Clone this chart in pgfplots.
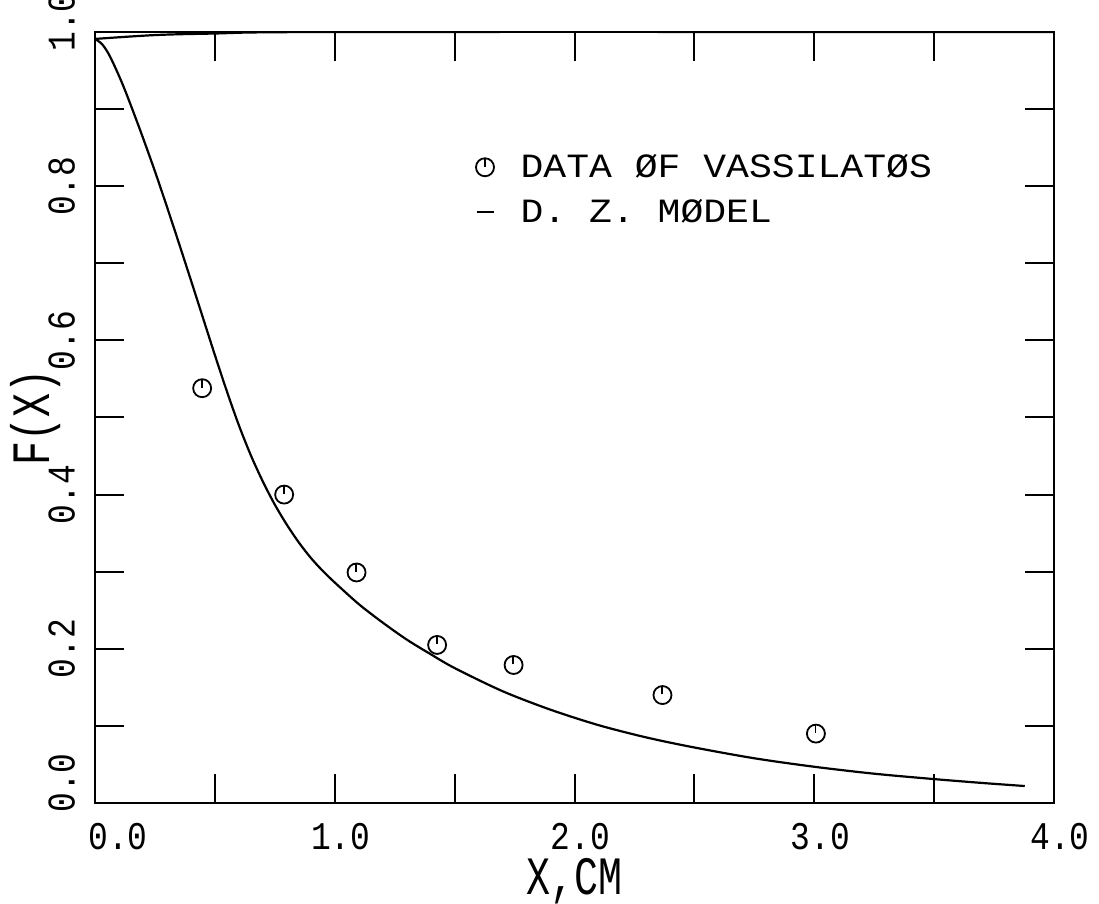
\documentclass[border=0pt]{standalone}
\usepackage{fontspec}
\setmainfont{Liberation Mono}
\newfontfamily\tickfont[FakeStretch=0.84]{Liberation Mono}
\newfontfamily\labfont[FakeStretch=0.74]{Liberation Mono}
\newfontfamily\legfont[FakeStretch=1.12]{Liberation Mono}
\usepackage{pgfplots}
\pgfplotsset{compat=1.18}

% circle with a short stroke inside, as the plotter drew it
\pgfdeclareplotmark{clock}{%
  \pgfpathcircle{\pgfpointorigin}{4.5pt}%
  \pgfusepathqstroke
  \pgfpathmoveto{\pgfpoint{-0.2pt}{0.3pt}}%
  \pgfpathlineto{\pgfpoint{-0.2pt}{4.2pt}}%
  \pgfusepathqstroke}

\pgfplotsset{
  markleg/.style={legend image code/.code={\draw[##1] plot coordinates {(0pt,0pt)};}},
  dashleg/.style={legend image code/.code={\draw[##1] (-4.25pt,0pt) -- (4.25pt,0pt);}},
}

\begin{document}
\begin{tikzpicture}
\begin{axis}[
  at={(0,0)}, anchor=south west,
  scale only axis, width=479.5pt, height=385.5pt,
  xmin=0, xmax=4, ymin=0, ymax=1,
  xtick={0,1,2,3,4},
  xticklabels={\hspace{17pt}0.0,1.0,2.0,3.0,4.0},
  minor xtick={0.5,1.5,2.5,3.5},
  ytick={0,0.2,0.4,0.6,0.8,1.0},
  yticklabels={\hspace{20pt}0.0,0.2,0.4,0.6,0.8,\hspace{10pt}1.0},
  minor ytick={0.1,0.3,0.5,0.7,0.9},
  tick align=inside,
  major tick length=14.5pt, minor tick length=14.5pt,
  tick style={line width=1pt, black},
  axis line style={line width=1.2pt},
  xticklabel style={font=\tickfont\fontsize{19.6}{20}\selectfont, inner sep=0pt, anchor=north, xshift=3pt},
  xticklabel shift=9.75pt,
  yticklabel style={font=\tickfont\fontsize{19.6}{20}\selectfont, inner sep=0pt, rotate=90, anchor=south},
  yticklabel shift=9.75pt,
  xlabel={X,CM},
  ylabel={F(X)},
  xlabel style={font=\labfont\fontsize{27}{29}\selectfont, at={(axis description cs:0.5,-0.119)}, anchor=base, inner sep=0pt},
  ylabel style={font=\labfont\fontsize{27}{29}\selectfont, at={(axis description cs:-0.047,0.5)}, anchor=base, inner sep=0pt},
  legend style={draw=none, fill=none, inner sep=0pt, at={(axis cs:1.585,0.842)}, anchor=north west,
    font=\legfont\fontsize{17}{18}\selectfont, row sep=9.5pt, nodes={inner sep=0pt},
    /tikz/every odd column/.append style={column sep=13pt}},
  legend cell align=left,
]
\addplot[only marks, mark=clock, mark options={line width=0.9pt}, markleg]
  coordinates {(0.447,0.538) (0.789,0.400) (1.091,0.299) (1.427,0.205)
               (1.746,0.179) (2.367,0.140) (3.007,0.090)};
\addlegendentry{DATA ØF VASSILATØS}
\addplot[line width=1.1pt, smooth, no marks, dashleg]
  coordinates {(0,0.991) (0.03,0.984) (0.063,0.968) (0.118,0.930) (0.188,0.873)
               (0.257,0.813) (0.327,0.748) (0.396,0.682) (0.466,0.614) (0.50,0.581)
               (0.55,0.534) (0.60,0.490) (0.65,0.451) (0.70,0.417) (0.75,0.387)
               (0.80,0.361) (0.85,0.338) (0.90,0.318) (0.95,0.301) (1.00,0.286)
               (1.10,0.258) (1.20,0.234) (1.30,0.212) (1.40,0.193) (1.50,0.175)
               (1.70,0.145) (1.90,0.121) (2.10,0.101) (2.30,0.085) (2.50,0.072)
               (2.75,0.058) (3.00,0.047) (3.25,0.038) (3.50,0.031) (3.70,0.026)
               (3.878,0.022)};
\addlegendentry{D. Z. MØDEL}
\addplot[line width=1.1pt, smooth, no marks, forget plot]
  coordinates {(0,0.991) (0.25,0.996) (0.5,0.998) (1,1) (4,1)};
\end{axis}
\pgfresetboundingbox
\path[use as bounding box] (-47.5pt,-50.5pt) rectangle (502pt,401.5pt);
\end{tikzpicture}
\end{document}
